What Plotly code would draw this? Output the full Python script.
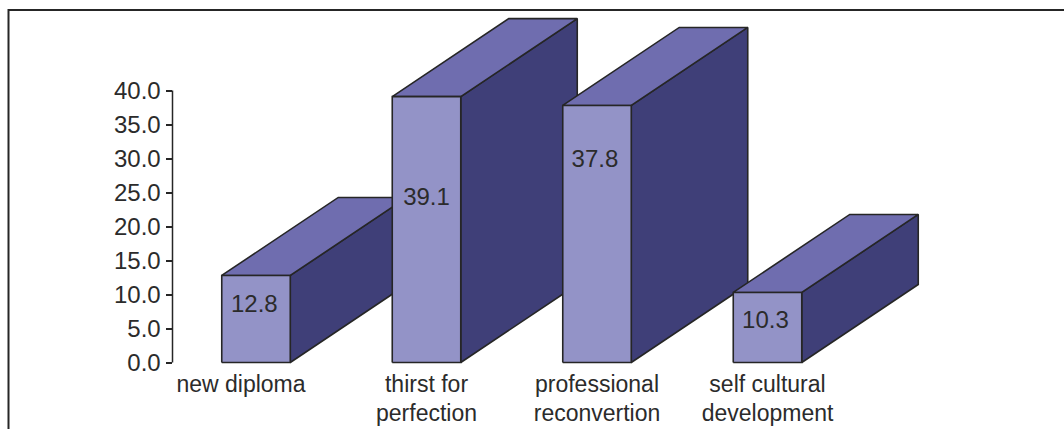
import plotly.graph_objects as go

# Survey results: motivation for enrolling, in percent
categories = ["new diploma", "thirst for<br>perfection", "professional<br>reconvertion", "self cultural<br>development"]
values = [12.8, 39.1, 37.8, 10.3]
label_heights = [8.3, 24.1, 29.6, 6.0]
label_shift = [-0.01, 0.0, -0.012, -0.012]
category_ticks = [-0.088, 1, 2, 3]
y_ticks = [0, 5, 10, 15, 20, 25, 30, 35, 40]

WIDTH, HEIGHT = 1064, 429
PX_PER_UNIT_Y = 6.8
PX_PER_CAT = 170.5
ZERO_Y_PX = 362.5
FIRST_CAT_PX = 256.0
AXIS_X_PX = 172.5

BAR_W = 68.5 / PX_PER_CAT
DEPTH_X = 116.5 / PX_PER_CAT
DEPTH_Y = 78 / PX_PER_UNIT_Y

FRONT = "#9393C7"
TOP = "#6F6DAF"
SIDE = "#3F3F78"
EDGE = "#262626"
INK = "#2B2B2B"
FONT = "Liberation Sans"
SIZE = 24
CATEGORY_SIZE = 23


def face(xs, ys, color):
    return go.Scatter(
        x=xs + xs[:1], y=ys + ys[:1], mode="lines", fill="toself",
        fillcolor=color, line=dict(color=EDGE, width=1.6),
        hoverinfo="skip", showlegend=False,
    )


fig = go.Figure()

# Each column is an oblique box: side and top first, then the front face
for i, v in enumerate(values):
    l, r = i - BAR_W / 2, i + BAR_W / 2
    fig.add_trace(face([r, r + DEPTH_X, r + DEPTH_X, r], [0, DEPTH_Y, v + DEPTH_Y, v], SIDE))
    fig.add_trace(face([l, l + DEPTH_X, r + DEPTH_X, r], [v, v + DEPTH_Y, v + DEPTH_Y, v], TOP))
    fig.add_trace(face([l, r, r, l], [0, 0, v, v], FRONT))

fig.add_trace(go.Scatter(
    x=[i + s for i, s in enumerate(label_shift)], y=label_heights,
    text=[f"{v:.1f}" for v in values], mode="text", textposition="middle center",
    textfont=dict(family=FONT, size=SIZE, color=INK),
    hoverinfo="skip", showlegend=False,
))

fig.update_layout(
    width=WIDTH, height=HEIGHT, autosize=False,
    margin=dict(l=0, r=0, t=0, b=0),
    paper_bgcolor="white", plot_bgcolor="white",
    font=dict(family=FONT, size=SIZE, color=INK),
    showlegend=False,
    xaxis=dict(
        domain=[AXIS_X_PX / WIDTH, 1],
        range=[(AXIS_X_PX - FIRST_CAT_PX) / PX_PER_CAT, (WIDTH - FIRST_CAT_PX) / PX_PER_CAT],
        tickmode="array", tickvals=category_ticks, ticktext=categories,
        tickfont=dict(family=FONT, size=CATEGORY_SIZE, color=INK),
        ticks="", ticklen=0, showline=False, showgrid=False, zeroline=False,
        anchor="free", position=(HEIGHT - ZERO_Y_PX) / HEIGHT,
        ticklabelstandoff=5, fixedrange=True,
    ),
    yaxis=dict(
        range=[(ZERO_Y_PX - HEIGHT) / PX_PER_UNIT_Y, ZERO_Y_PX / PX_PER_UNIT_Y],
        tickmode="array", tickvals=y_ticks, ticktext=[f"{t:.1f}" for t in y_ticks],
        ticks="outside", ticklen=6, tickwidth=1.5, tickcolor=EDGE,
        showline=False, showgrid=False, zeroline=False, fixedrange=True,
    ),
    shapes=[
        # Value axis spine, stopping at the top tick
        dict(type="line", xref="paper", yref="y", x0=AXIS_X_PX / WIDTH, x1=AXIS_X_PX / WIDTH,
             y0=0, y1=y_ticks[-1], line=dict(color=EDGE, width=1.5)),
        # Outer frame: left and top edges only show, the rest runs off the page
        dict(type="rect", xref="paper", yref="paper", x0=8.5 / WIDTH, x1=1.1,
             y0=-0.1, y1=(HEIGHT - 10) / HEIGHT, line=dict(color=EDGE, width=2),
             layer="below"),
    ],
)

fig.write_html("out.html", config=dict(displayModeBar=False))
